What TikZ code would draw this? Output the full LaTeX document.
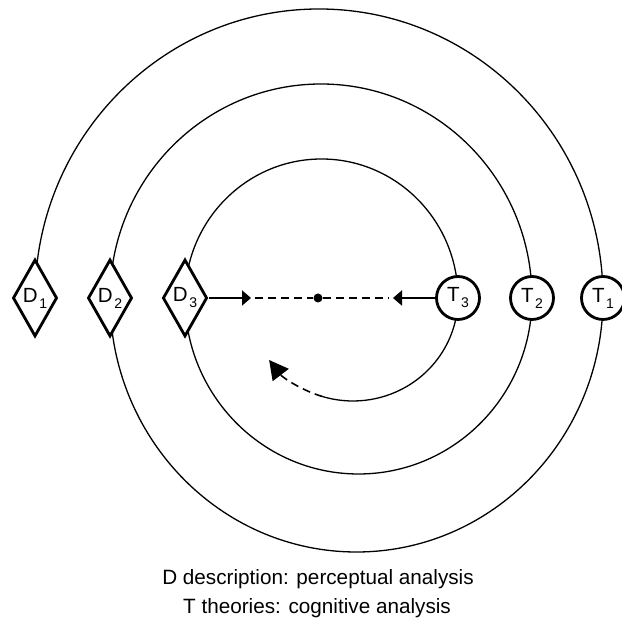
\documentclass[tikz,border=0pt]{standalone}
\usepackage{fontspec}
\setmainfont{Liberation Sans}
\usetikzlibrary{backgrounds,shapes.geometric,arrows.meta}
\newcommand\labfont{\fontsize{20.5}{24}\selectfont}
\newcommand\capfont{\fontsize{20.7}{29}\selectfont}
\newcommand\lsub[1]{\kern1.5pt\raisebox{-6pt}{\fontsize{14}{16}\selectfont #1}}
\tikzset{
  dnode/.style={diamond, draw, line width=2.8pt, fill=white, minimum width=44pt, minimum height=77pt, inner sep=0pt, font=\labfont},
  tnode/.style={circle, draw, line width=2.8pt, fill=white, minimum size=43pt, inner sep=0pt, font=\labfont},
  ring/.style={line width=1.3pt},
  shaft/.style={line width=2pt, -{Triangle[length=9pt,width=15pt]}},
  dashline/.style={line width=1.6pt, dash pattern=on 8pt off 5pt},
  caption/.style={anchor=base, inner sep=0pt, font=\capfont}
}
\begin{document}
\begin{tikzpicture}[x=1pt,y=1pt]
\useasboundingbox (0,0) rectangle (622,618);
% nodes
\node[dnode] (d1) at (35,320) {D\lsub{1}};
\node[dnode] (d2) at (110,320) {D\lsub{2}};
\node[dnode] (d3) at (185,320) {D\lsub{3}};
\node[tnode] (t3) at (458,320) {T\lsub{3}};
\node[tnode] (t2) at (532,320) {T\lsub{2}};
\node[tnode] (t1) at (603,320) {T\lsub{1}};
\node[circle, fill, inner sep=0pt, minimum size=9pt] (mid) at (318,320) {};
\coordinate (tipL) at (251,320);
\coordinate (tipR) at (393,320);
% spiral arcs
\begin{scope}[on background layer]
  \draw[ring] (d1.center) arc[start angle=180, end angle=0, x radius=284pt, y radius=289pt];
  \draw[ring] (t1.center) arc[start angle=0, end angle=-180, x radius=246.5pt, y radius=254pt];
  \draw[ring] (d2.center) arc[start angle=180, end angle=0, x radius=211pt, y radius=214pt];
  \draw[ring] (t2.center) arc[start angle=0, end angle=-180, x radius=173.5pt, y radius=176pt];
  \draw[ring] (d3.center) arc[start angle=180, end angle=0, x radius=136.5pt, y radius=139pt];
  \draw[ring] (t3.center) arc[start angle=0, end angle=-107, x radius=105pt, y radius=103pt] coordinate (sp);
\end{scope}
\draw[dashline, -{Triangle[length=19pt,width=20pt]}] (sp) arc[start angle=-107, end angle=-143, x radius=105pt, y radius=103pt];
% axis arrows
\draw[shaft] (d3.east) -- (tipL);
\draw[shaft] (t3.west) -- (tipR);
\draw[dashline] ([xshift=4pt]tipL) -- (mid);
\draw[dashline] (mid) -- ([xshift=-5pt]tipR);
% captions
\node[caption] (cap1) at (318,33) {D description: perceptual analysis};
\node[caption] (cap2) at (317,4) {T theories: cognitive analysis};
\end{tikzpicture}
\end{document}
